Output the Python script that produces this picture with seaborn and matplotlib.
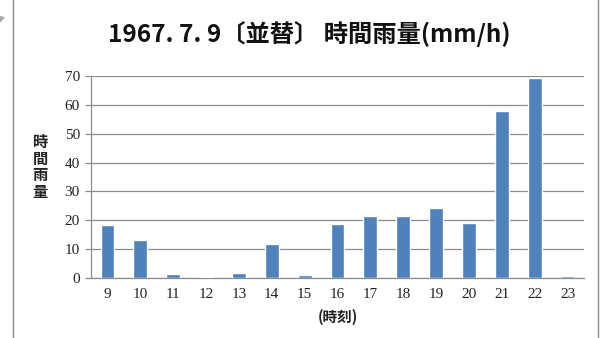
import matplotlib
matplotlib.use("Agg")
import matplotlib.pyplot as plt
import numpy as np
import pandas as pd
import seaborn as sns
from matplotlib.patches import Rectangle, Polygon

hours = [9, 10, 11, 12, 13, 14, 15, 16, 17, 18, 19, 20, 21, 22, 23]
rain = [18.5, 13.1, 1.4, 0.4, 1.7, 11.8, 1.0, 18.8, 21.5, 21.5, 24.1, 19.1, 57.9, 69.3, 0.6]
y_ticks = [0, 10, 20, 30, 40, 50, 60, 70]

sns.set_theme(style="white")
plt.rcParams["font.family"] = ["Noto Sans CJK JP", "DejaVu Sans"]

df = pd.DataFrame({"hour": [str(h) for h in hours], "rain": rain})

fig = plt.figure(figsize=(6.05, 3.38), dpi=100)
ax = fig.add_axes([91 / 605, 1 - 278 / 338, (584 - 91) / 605, (278 - 76) / 338])

sns.barplot(data=df, x="hour", y="rain", color="#4F81BD", saturation=1,
            width=0.42, ax=ax, zorder=3)

ax.set_ylim(0, 70)
ax.set_xlim(-0.5, len(hours) - 0.5)
ax.set_yticks(y_ticks)
ax.yaxis.grid(True, color="#8c8c8c", linewidth=0.9)
ax.set_axisbelow(True)
for s in ["top", "right"]:
    ax.spines[s].set_visible(False)
for s in ["left", "bottom"]:
    ax.spines[s].set_color("#8c8c8c")
    ax.spines[s].set_linewidth(0.9)

# category boundaries carry the x tick marks
ax.set_xticks(np.arange(-0.5, len(hours), 1.0), minor=True)
ax.tick_params(axis="x", which="minor", length=4, color="#8c8c8c", width=0.9, direction="out")
ax.tick_params(axis="x", which="major", length=0, pad=7)
ax.tick_params(axis="y", which="major", length=4, color="#8c8c8c", width=0.9,
               direction="out", pad=4, left=True)
for lbl in ax.get_xticklabels() + ax.get_yticklabels():
    lbl.set_color("#222222")
    lbl.set_fontfamily(["Liberation Serif", "DejaVu Serif"])
    lbl.set_fontsize(11)

ax.set_xlabel("(時刻)", fontsize=10.5, fontweight="bold", labelpad=6, color="#222222")
ax.set_ylabel("")

fig.text(40 / 605, 1 - 167 / 338, "時\n間\n雨\n量", ha="center", va="center",
         fontsize=11, fontweight="bold", linespacing=1.05, color="#222222")

fig.text(309 / 605, 1 - 34 / 338, "1967. 7. 9〔並替〕 時間雨量(mm/h)", ha="center",
         va="center", fontsize=17.5, fontweight="bold", color="#111111")

# chart frame
fig.add_artist(Rectangle((12.5 / 605, -0.02), (598 - 12.5) / 605, 1.1, transform=fig.transFigure,
                         fill=False, edgecolor="#8c8c8c", linewidth=1.0))
fig.add_artist(Polygon([[0, 1 - 16 / 338], [5 / 605, 1 - 17 / 338], [0, 1 - 23 / 338]],
                       closed=True, transform=fig.transFigure, facecolor="#a8a8a8",
                       edgecolor="none"))

fig.savefig("out.png", dpi=100)
